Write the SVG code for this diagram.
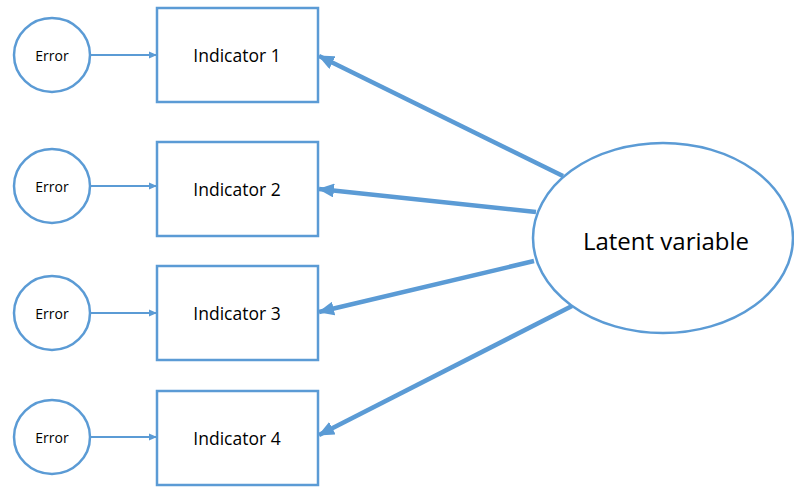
<svg xmlns="http://www.w3.org/2000/svg" width="794" height="487" viewBox="0 0 794 487">
<style>
.node{fill:#fff;stroke:#5B9BD5;stroke-width:2.5}
.t{font-family:"Open Sans","Liberation Sans",sans-serif;fill:#000;text-anchor:middle;dominant-baseline:central}
.thin{stroke:#5B9BD5;stroke-width:2;fill:none}
.thick{stroke:#5B9BD5;stroke-width:4.5;fill:none}
</style>
<defs>
<marker id="as" markerUnits="userSpaceOnUse" markerWidth="8" markerHeight="8" refX="8" refY="4" orient="auto">
<path d="M0,0.5 L8,4 L0,7.5 Z" fill="#5B9BD5"/>
</marker>
<marker id="al" markerUnits="userSpaceOnUse" markerWidth="16" markerHeight="14" refX="15" refY="7" orient="auto">
<path d="M0,0 L16,7 L0,14 Z" fill="#5B9BD5"/>
</marker>
</defs>
<rect width="794" height="487" fill="#fff"/>
<g id="connectors">
<line class="thin" x1="90" y1="55" x2="157" y2="55" marker-end="url(#as)"/>
<line class="thin" x1="90" y1="186" x2="157" y2="186" marker-end="url(#as)"/>
<line class="thin" x1="90" y1="313" x2="157" y2="313" marker-end="url(#as)"/>
<line class="thin" x1="90" y1="437" x2="157" y2="437" marker-end="url(#as)"/>
<line class="thick" x1="563" y1="176" x2="319" y2="56" marker-end="url(#al)"/>
<line class="thick" x1="536" y1="212" x2="319" y2="189" marker-end="url(#al)"/>
<line class="thick" x1="534" y1="261" x2="319" y2="312" marker-end="url(#al)"/>
<line class="thick" x1="572" y1="306" x2="319" y2="435" marker-end="url(#al)"/>
</g>
<g id="error1"><ellipse class="node" cx="52" cy="55" rx="38" ry="37"/><text class="t" x="52" y="55" font-size="14">Error</text></g>
<g id="error2"><ellipse class="node" cx="52" cy="186" rx="38" ry="37"/><text class="t" x="52" y="186" font-size="14">Error</text></g>
<g id="error3"><ellipse class="node" cx="52" cy="313" rx="38" ry="37"/><text class="t" x="52" y="313" font-size="14">Error</text></g>
<g id="error4"><ellipse class="node" cx="52" cy="437" rx="38" ry="37"/><text class="t" x="52" y="437" font-size="14">Error</text></g>
<g id="indicator1"><rect class="node" x="157" y="8" width="161" height="94"/><text class="t" x="237" y="55" font-size="17.5">Indicator 1</text></g>
<g id="indicator2"><rect class="node" x="157" y="142" width="161" height="94"/><text class="t" x="237" y="189" font-size="17.5">Indicator 2</text></g>
<g id="indicator3"><rect class="node" x="157" y="266" width="161" height="94"/><text class="t" x="237" y="313" font-size="17.5">Indicator 3</text></g>
<g id="indicator4"><rect class="node" x="157" y="391" width="161" height="94"/><text class="t" x="237" y="438" font-size="17.5">Indicator 4</text></g>
<g id="latent"><ellipse class="node" cx="663" cy="238" rx="130" ry="95"/><text class="t" x="666" y="240" font-size="24">Latent variable</text></g>
</svg>
